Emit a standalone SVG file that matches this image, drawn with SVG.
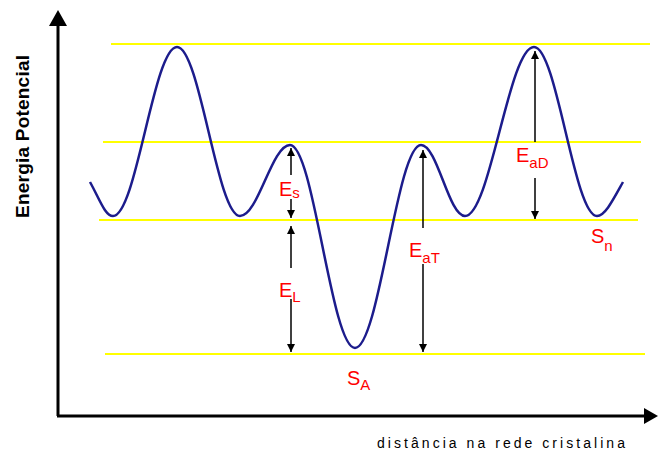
<svg xmlns="http://www.w3.org/2000/svg" width="658" height="452" viewBox="0 0 658 452">
<style>
.lvl{stroke:#ffff00;stroke-width:2;fill:none}
.axis{stroke:#000;stroke-width:3;fill:none}
.arr{stroke:#000;stroke-width:1.5;fill:none}
.head{fill:#000}
.lbl{font-family:"Liberation Sans",Arial,sans-serif;fill:#ff0000;font-size:20px}
.sub{font-size:15px}
.curve{stroke:#1c1c8c;stroke-width:2.5;fill:none}
</style>
<defs>
<marker id="ah" viewBox="0 0 8 8" refX="8" refY="4" markerWidth="8" markerHeight="8" markerUnits="userSpaceOnUse" orient="auto">
<path d="M0,0 L8,4 L0,8 Z" class="head"/>
</marker>
</defs>
<rect width="658" height="452" fill="#fff"/>
<g id="levels">
<line class="lvl" x1="111" y1="44" x2="650" y2="44"/>
<line class="lvl" x1="103" y1="142" x2="641" y2="142"/>
<line class="lvl" x1="99" y1="220" x2="638" y2="220"/>
<line class="lvl" x1="105" y1="354" x2="645" y2="354"/>
</g>
<g id="axes">
<line class="axis" x1="58" y1="22" x2="58" y2="416"/>
<line class="axis" x1="57" y1="416" x2="646" y2="416"/>
<path class="head" d="M58,10 L67,26 L49,26 Z"/>
<path class="head" d="M658,416 L644,408 L644,424 Z"/>
</g>
<g id="curve">
<path class="curve" d="M90,182 C100,200 105,216 113,216 C136.3,216 153.7,47 177,47 C199.9,47 217.1,216 240,216 C258.2,216 271.8,145 290,145 C313.7,145 331.3,348 355,348 C379,348 397,145 421,145 C437.4,145 448.6,216 465,216 C490.1,216 508.9,47 534,47 C556.9,47 574.1,216 597,216 C605,216 613,200 623,182"/>
</g>
<g id="connectors">
<line class="arr" x1="291" y1="175" x2="291" y2="148" marker-end="url(#ah)"/>
<line class="arr" x1="291" y1="199" x2="291" y2="218" marker-end="url(#ah)"/>
<line class="arr" x1="291" y1="268" x2="291" y2="226" marker-end="url(#ah)"/>
<line class="arr" x1="291" y1="299" x2="291" y2="352" marker-end="url(#ah)"/>
<line class="arr" x1="423" y1="228" x2="423" y2="150" marker-end="url(#ah)"/>
<line class="arr" x1="423" y1="264" x2="423" y2="352" marker-end="url(#ah)"/>
<line class="arr" x1="535" y1="142" x2="535" y2="51" marker-end="url(#ah)"/>
<line class="arr" x1="535" y1="178" x2="535" y2="219" marker-end="url(#ah)"/>
</g>
<g id="label-Es"><text class="lbl" x="279" y="196">E<tspan class="sub" dy="2">s</tspan></text></g>
<g id="label-EL"><text class="lbl" x="279" y="297">E<tspan class="sub" dy="5">L</tspan></text></g>
<g id="label-EaT"><text class="lbl" x="409" y="257">E<tspan class="sub" dy="6">aT</tspan></text></g>
<g id="label-EaD"><text class="lbl" x="516" y="162">E<tspan class="sub" dy="6">aD</tspan></text></g>
<g id="label-SA"><text class="lbl" x="347" y="385">S<tspan class="sub" dy="5">A</tspan></text></g>
<g id="label-Sn"><text class="lbl" x="591" y="243">S<tspan class="sub" dy="8">n</tspan></text></g>
<g id="axis-labels">
<text x="0" y="0" transform="translate(29,218) rotate(-90)" font-family="'Liberation Sans',Arial,sans-serif" font-weight="bold" font-size="19" textLength="163" lengthAdjust="spacing">Energia Potencial</text>
<text x="377" y="448" font-family="'Liberation Sans',Arial,sans-serif" font-size="14" textLength="248" lengthAdjust="spacing">distância na rede cristalina</text>
</g>
</svg>
